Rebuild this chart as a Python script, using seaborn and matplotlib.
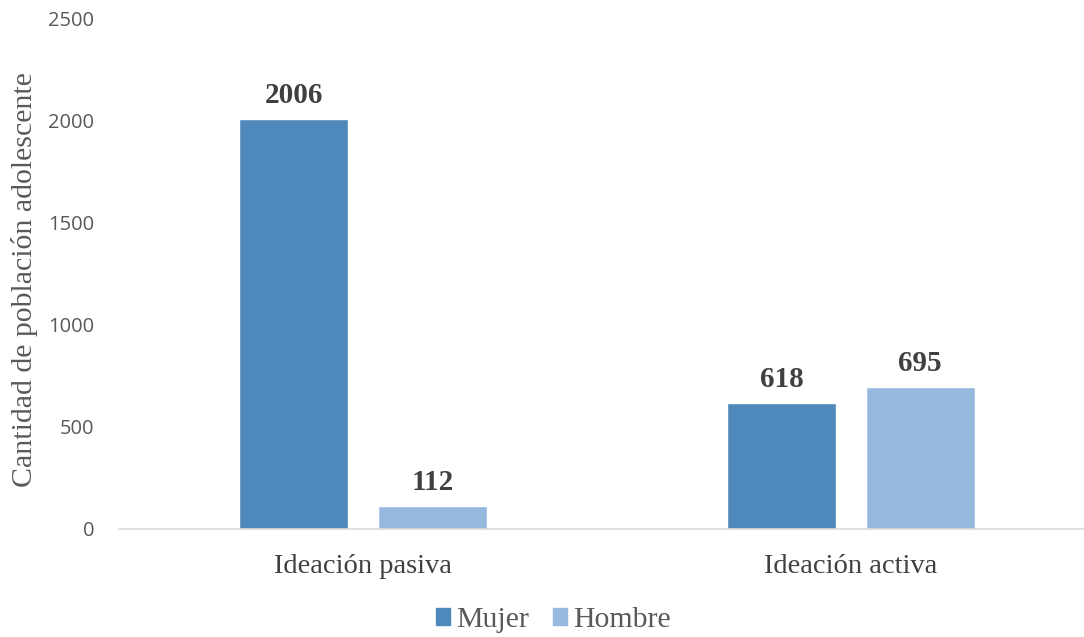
import matplotlib
matplotlib.use("Agg")
import matplotlib.pyplot as plt
import seaborn as sns
import pandas as pd

categories = ["Ideación pasiva", "Ideación activa"]
series = ["Mujer", "Hombre"]
mujer = [2006, 618]
hombre = [112, 695]
y_ticks = [0, 500, 1000, 1500, 2000, 2500]

colors = {"Mujer": "#4F88BB", "Hombre": "#97B9DF"}

df = pd.DataFrame({
    "categoria": categories * 2,
    "sexo": ["Mujer"] * len(categories) + ["Hombre"] * len(categories),
    "valor": mujer + hombre,
})

sns.set_theme(style="white")
fig = plt.figure(figsize=(10.84, 6.37), dpi=100)
ax = fig.add_axes([119 / 1084, 1 - 529 / 637, 965 / 1084, (529 - 18) / 637])

sns.barplot(data=df, x="categoria", y="valor", hue="sexo", hue_order=series,
            order=categories, palette=colors, width=0.568, gap=0.215,
            saturation=1, ax=ax, legend=True)

ax.set_xlim(-0.5, -0.5 + 965 / 488)
ax.set_ylim(0, 2500)
ax.set_yticks(y_ticks)
ax.set_yticklabels([str(t) for t in y_ticks], fontfamily="Open Sans",
                   fontsize=14.5, color="#595959")
ax.tick_params(axis="y", length=0, pad=18)
ax.tick_params(axis="x", length=0, pad=18)
for lbl in ax.get_xticklabels():
    lbl.set_fontfamily("Liberation Serif")
    lbl.set_fontsize(20.5)
    lbl.set_color("#404040")

ax.set_xlabel("")
ax.set_ylabel("Cantidad de población adolescente", fontfamily="Liberation Serif",
              fontsize=21.5, color="#595959")
ax.yaxis.set_label_coords(-(119 - 38) / 965, 0.489)

for s in ["top", "right", "left"]:
    ax.spines[s].set_visible(False)
ax.spines["bottom"].set_color("#D9D9D9")
ax.spines["bottom"].set_linewidth(1.2)

for cont in ax.containers:
    ax.bar_label(cont, labels=[f"{v:.0f}" for v in cont.datavalues], padding=7,
                 fontfamily="Liberation Serif", fontsize=21, fontweight="bold",
                 color="#404040")

ax.legend_.remove()
handles = [plt.Rectangle((0, 0), 1, 1, color=colors[s]) for s in series]
fig.legend(handles, series, loc="center", bbox_to_anchor=(553 / 1084, 1 - 620 / 637),
           ncol=2, frameon=False, handlelength=0.48, handleheight=0.48,
           handletextpad=0.2, columnspacing=0.8,
           prop={"family": "Liberation Serif", "size": 21.5}, labelcolor="#595959")

fig.savefig("out.png", dpi=100, facecolor="white")
